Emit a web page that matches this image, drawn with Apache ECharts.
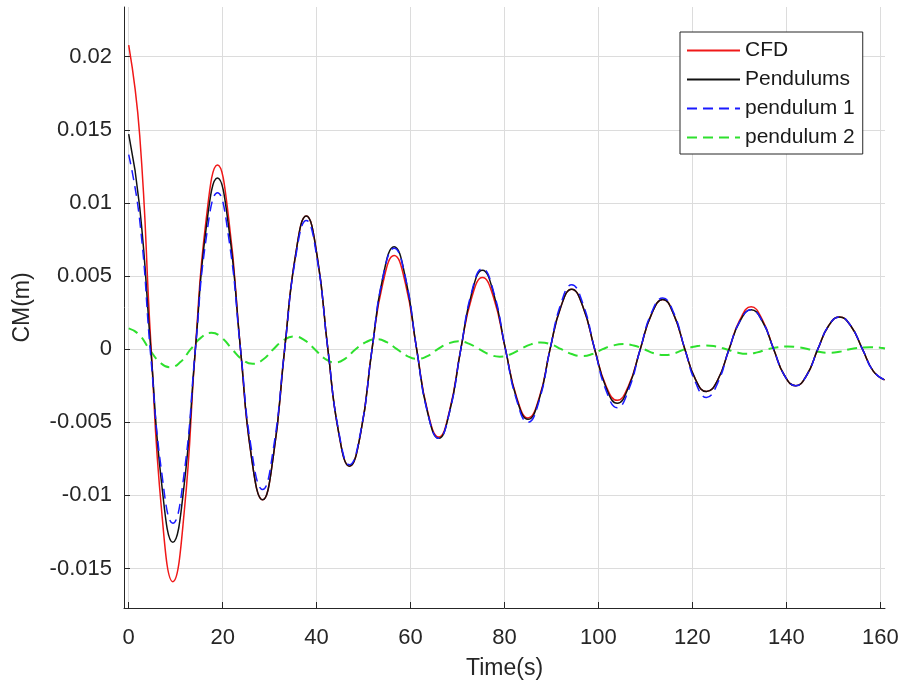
<!DOCTYPE html>
<html>
<head>
<meta charset="utf-8">
<script src="https://cdn.jsdelivr.net/npm/echarts@6/dist/echarts.min.js"></script>
<style>
  html, body { margin: 0; padding: 0; background: #fff; }
  #chart { width: 904px; height: 686px; }
</style>
</head>
<body>
<div id="chart"></div>
<script>
// time samples (s) shared by CFD / Pendulums / pendulum 1
var tMain = [0, 2.35, 4.7, 7.05, 9.4, 11.8, 14.2, 16.5, 18.9, 21.3, 23.8, 26.1, 28.5, 30.8, 33.2, 35.5,
  37.8, 40.1, 42.4, 44.7, 47.0, 49.4, 51.8, 54.1, 56.5, 58.9, 61.3, 63.6, 66.0, 68.3, 70.7, 73.0,
  75.3, 77.7, 80.2, 82.6, 85.0, 87.4, 89.7, 92.0, 94.3, 96.7, 99.2, 101.6, 104.0, 106.4, 108.9, 111.3,
  113.7, 116.0, 118.4, 120.7, 123.0, 125.4, 127.8, 130.1, 132.5, 134.9, 137.3, 139.6, 142.0, 144.3,
  146.7, 149.0, 151.3, 153.7, 156.2, 158.5, 160.9];

var cfd = [0.0208, 0.0146, 0.0005, -0.0112, -0.0159, -0.0112, 0.0001, 0.0089, 0.0126, 0.0089, 0.0000, -0.0073, -0.0103, -0.0073, 0.0000, 0.0064,
  0.0091, 0.0064, 0.0000, -0.0057, -0.0080, -0.0057, 0.0000, 0.0045, 0.0064, 0.0045, 0.0000, -0.0042, -0.0060, -0.0042, 0.0000, 0.0035,
  0.0049, 0.0035, 0.0000, -0.0033, -0.0047, -0.0033, 0.0000, 0.0029, 0.0041, 0.0029, 0.0000, -0.0025, -0.0035, -0.0025, 0.0000, 0.0024,
  0.0034, 0.0024, 0.0000, -0.0021, -0.0029, -0.0021, 0.0000, 0.0020, 0.0029, 0.0020, 0.0000, -0.0018, -0.0025, -0.0018,
  0.0000, 0.0016, 0.0022, 0.0016, 0.0000, -0.0015, -0.0021];

var pendulums = [0.0147, 0.0097, 0.0000, -0.0093, -0.0132, -0.0093, 0.0000, 0.0083, 0.0117, 0.0083, 0.0000, -0.0073, -0.0103, -0.0073, 0.0000, 0.0064,
  0.0091, 0.0064, 0.0000, -0.0057, -0.0080, -0.0057, 0.0000, 0.0049, 0.0070, 0.0049, 0.0000, -0.0043, -0.0061, -0.0043, 0.0000, 0.0038,
  0.0054, 0.0038, 0.0000, -0.0034, -0.0048, -0.0034, 0.0000, 0.0029, 0.0041, 0.0029, 0.0000, -0.0026, -0.0037, -0.0026, 0.0000, 0.0024,
  0.0034, 0.0024, 0.0000, -0.0021, -0.0029, -0.0021, 0.0000, 0.0019, 0.0027, 0.0019, 0.0000, -0.0018, -0.0025, -0.0018,
  0.0000, 0.0016, 0.0022, 0.0016, 0.0000, -0.0015, -0.0021];

var pendulum1 = [0.0133, 0.0088, -0.0005, -0.0085, -0.0119, -0.0085, 0.0000, 0.0076, 0.0107, 0.0076, 0.0000, -0.0068, -0.0096, -0.0068, 0.0000, 0.0062,
  0.0088, 0.0062, 0.0000, -0.0056, -0.0079, -0.0056, 0.0000, 0.0049, 0.0069, 0.0049, 0.0000, -0.0043, -0.0061, -0.0043, 0.0000, 0.0039,
  0.0055, 0.0039, 0.0000, -0.0035, -0.0050, -0.0035, 0.0000, 0.0031, 0.0044, 0.0031, 0.0000, -0.0028, -0.0040, -0.0028, 0.0000, 0.0025,
  0.0035, 0.0025, 0.0000, -0.0023, -0.0033, -0.0023, 0.0000, 0.0019, 0.0027, 0.0019, 0.0000, -0.0018, -0.0025, -0.0018,
  0.0000, 0.0016, 0.0022, 0.0016, 0.0000, -0.0015, -0.0021];

// pendulum 2 has its own (shorter) period
var tGreen = [0, 2.2, 4.4, 6.6, 8.8, 11.0, 13.2, 15.4, 17.6, 19.8, 22.0, 24.2, 26.4, 28.6, 30.8, 33.0,
  35.2, 37.4, 39.6, 41.7, 43.9, 46.1, 48.3, 50.5, 52.7, 54.9, 57.1, 59.3, 61.4, 63.6, 65.8, 68.0,
  70.2, 72.4, 74.6, 76.8, 79.0, 81.2, 83.4, 85.6, 87.7, 89.9, 92.1, 94.3, 96.5, 98.7, 100.9, 103.1,
  105.3, 107.5, 109.7, 111.8, 114.0, 116.2, 118.4, 120.6, 122.8, 125.0, 127.2, 129.4, 131.6, 133.8,
  136.0, 138.2, 140.3, 142.5, 144.7, 146.9, 149.1, 151.3, 153.5, 155.7, 157.8, 160.0, 161.0];

var pendulum2 = [0.00142, 0.00100, 0.0000, -0.00088, -0.00124, -0.00088, 0.0000, 0.00079, 0.00112, 0.00079, 0.0000, -0.00071, -0.00100, -0.00071, 0.0000, 0.00062,
  0.00087, 0.00062, 0.0000, -0.00064, -0.00090, -0.00064, 0.0000, 0.00048, 0.00068, 0.00048, 0.0000, -0.00047, -0.00066, -0.00047, 0.0000, 0.00038,
  0.00054, 0.00038, 0.0000, -0.00036, -0.00051, -0.00036, 0.0000, 0.00033, 0.00046, 0.00033, 0.0000, -0.00033, -0.00047, -0.00033, 0.0000, 0.00025,
  0.00035, 0.00025, 0.0000, -0.00028, -0.00040, -0.00028, 0.0000, 0.00018, 0.00026, 0.00018, 0.0000, -0.00022, -0.00032, -0.00022,
  0.0000, 0.00013, 0.00019, 0.00013, 0.0000, -0.00018, -0.00025, -0.00018, 0.0000, 0.00010, 0.00014, 0.00010, 0.00005];

var xTicks = [0, 20, 40, 60, 80, 100, 120, 140, 160];
var yTicks = [-0.015, -0.01, -0.005, 0, 0.005, 0.01, 0.015, 0.02];
var names = ['CFD', 'Pendulums', 'pendulum 1', 'pendulum 2'];

function pairs(t, v) {
  return t.map(function (x, i) { return [x, v[i]]; });
}

var font = 'Liberation Sans, Arial, Helvetica, sans-serif';
var axisColor = '#262626';

var chart = echarts.init(document.getElementById('chart'));
chart.setOption({
  animation: false,
  backgroundColor: '#fff',
  textStyle: { fontFamily: font },
  grid: { left: 124, right: 19, top: 7, bottom: 78, outerBoundsMode: 'none' },
  legend: {
    orient: 'vertical',
    left: 680,
    top: 32,
    data: names,
    itemWidth: 53,
    itemHeight: 14,
    itemGap: 8,
    padding: [8, 8, 6, 6],
    backgroundColor: '#fff',
    borderColor: axisColor,
    borderWidth: 1,
    borderRadius: 0,
    itemStyle: { opacity: 0 },
    textStyle: { fontSize: 21, color: '#1a1a1a', fontFamily: font }
  },
  xAxis: {
    type: 'value',
    min: -1,
    max: 161,
    name: 'Time(s)',
    nameLocation: 'middle',
    nameGap: 49,
    nameTextStyle: { fontSize: 23, color: axisColor, fontFamily: font },
    axisLine: { onZero: false, lineStyle: { color: axisColor, width: 1 } },
    axisTick: { inside: true, length: 6, customValues: xTicks, lineStyle: { color: axisColor } },
    axisLabel: { customValues: xTicks, fontSize: 22, color: axisColor, margin: 19, fontFamily: font },
    splitLine: { show: true, lineStyle: { color: '#dcdcdc', width: 1 } }
  },
  yAxis: {
    type: 'value',
    min: -0.0177,
    max: 0.0234,
    name: 'CM(m)',
    nameLocation: 'middle',
    nameGap: 90,
    nameTextStyle: { fontSize: 23, color: axisColor, fontFamily: font },
    axisLine: { show: true, onZero: false, lineStyle: { color: axisColor, width: 1 } },
    axisTick: { show: true, inside: true, length: 6, customValues: yTicks, lineStyle: { color: axisColor } },
    axisLabel: { customValues: yTicks, fontSize: 22, color: axisColor, margin: 12, fontFamily: font,
      formatter: function (v) { return String(v); } },
    splitLine: { show: true, lineStyle: { color: '#dcdcdc', width: 1 } }
  },
  series: [
    {
      name: 'CFD', type: 'line', data: pairs(tMain, cfd), smooth: true, symbol: 'none',
      lineStyle: { color: '#f01818', width: 1.5 }, itemStyle: { color: '#f01818' }, z: 3
    },
    {
      name: 'Pendulums', type: 'line', data: pairs(tMain, pendulums), smooth: true, symbol: 'none',
      lineStyle: { color: '#111111', width: 1.5 }, itemStyle: { color: '#111111' }, z: 4
    },
    {
      name: 'pendulum 1', type: 'line', data: pairs(tMain, pendulum1), smooth: true, symbol: 'none',
      lineStyle: { color: '#1a1aff', width: 1.5, type: [10, 6] }, itemStyle: { color: '#1a1aff' }, z: 5
    },
    {
      name: 'pendulum 2', type: 'line', data: pairs(tGreen, pendulum2), smooth: true, symbol: 'none',
      lineStyle: { color: '#2ee02e', width: 2, type: [10, 6] }, itemStyle: { color: '#2ee02e' }, z: 2
    }
  ]
});
</script>
</body>
</html>
